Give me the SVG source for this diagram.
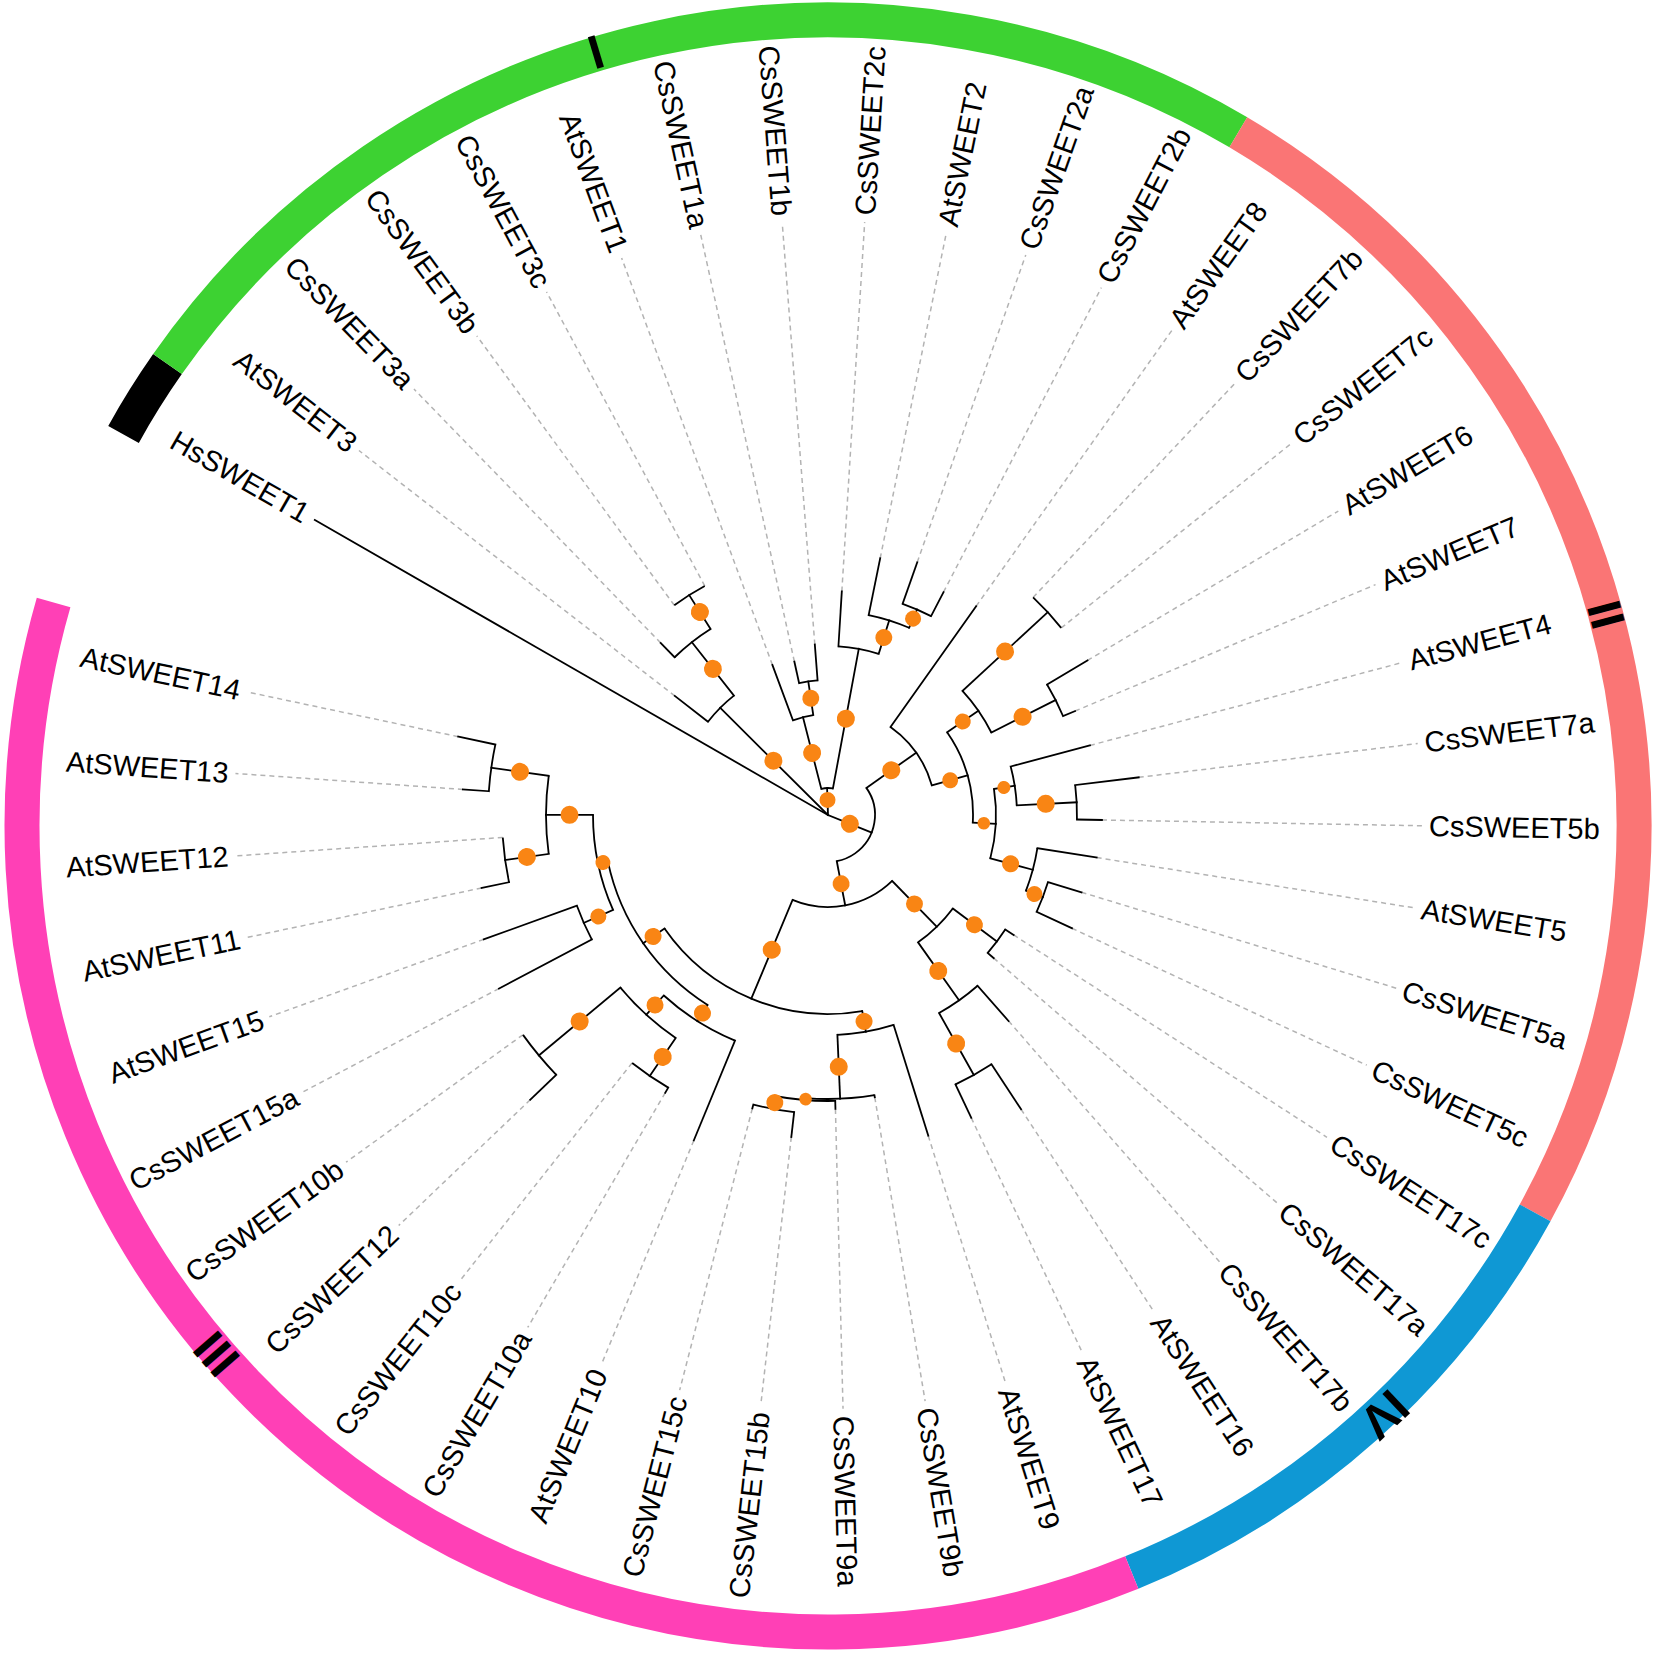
<svg xmlns="http://www.w3.org/2000/svg" width="1655" height="1653" viewBox="0 0 1655 1653">
<style>
.b line{stroke:#000;stroke-width:1.8;stroke-linecap:square}
.b circle{fill:none;stroke:#000;stroke-width:1.8}
.d line{stroke:#b3b3b3;stroke-width:1.5;stroke-dasharray:5 4}
.o circle{fill:#f98514}
text.t{font-family:"Liberation Sans",Arial,sans-serif;font-size:29px;fill:#000;dominant-baseline:central}
text.e{text-anchor:end}
.ring circle{fill:none;stroke-width:35}
text.num{font-family:"Liberation Sans",Arial,sans-serif;font-weight:bold;font-size:48px;text-anchor:middle;dominant-baseline:central;fill:#000}
</style>
<rect width="1655" height="1653" fill="#fff"/>
<g id="ring" class="ring" transform="translate(828,826)">
<circle id="seg-Hs" r="806" pathLength="360" stroke="#000" stroke-dasharray="5.9 400" transform="rotate(209.07)"/>
<circle id="seg-I" r="806" pathLength="360" stroke="#3dd232" stroke-dasharray="85.63 400" transform="rotate(214.97)"/>
<circle id="seg-II" r="806" pathLength="360" stroke="#fa7575" stroke-dasharray="88.08 400" transform="rotate(300.6)"/>
<circle id="seg-IV" r="806" pathLength="360" stroke="#0f98d4" stroke-dasharray="39.18 400" transform="rotate(28.68)"/>
<circle id="seg-III" r="806" pathLength="360" stroke="#ff40b6" stroke-dasharray="128.24 400" transform="rotate(67.86)"/>
<text class="num" transform="rotate(253.3) translate(808,0) rotate(90)">I</text>
<text class="num" transform="rotate(-15.2) translate(806,0) rotate(90)">II</text>
<text class="num" transform="rotate(139.2) translate(808,0) rotate(90)">III</text>
<text class="num" transform="rotate(46.6) translate(810,0) rotate(90)">IV</text>
</g>
<g transform="translate(828,815)">
<g id="connectors">
<g class="d">
<line x1="194" x2="594" transform="rotate(217.85)"/>
<line x1="240" x2="594" transform="rotate(225.81)"/>
<line x1="260" x2="594" transform="rotate(233.76)"/>
<line x1="260" x2="594" transform="rotate(241.72)"/>
<line x1="160" x2="594" transform="rotate(249.67)"/>
<line x1="157" x2="594" transform="rotate(257.63)"/>
<line x1="171" x2="594" transform="rotate(265.58)"/>
<line x1="224" x2="594" transform="rotate(273.54)"/>
<line x1="262" x2="594" transform="rotate(281.49)"/>
<line x1="268" x2="594" transform="rotate(289.45)"/>
<line x1="251" x2="594" transform="rotate(297.4)"/>
<line x1="256" x2="594" transform="rotate(305.36)"/>
<line x1="299" x2="594" transform="rotate(313.31)"/>
<line x1="299" x2="594" transform="rotate(321.27)"/>
<line x1="302" x2="594" transform="rotate(329.22)"/>
<line x1="268" x2="594" transform="rotate(337.18)"/>
<line x1="271" x2="594" transform="rotate(345.13)"/>
<line x1="313" x2="594" transform="rotate(353.09)"/>
<line x1="274" x2="594" transform="rotate(1.04)"/>
<line x1="272" x2="594" transform="rotate(9)"/>
<line x1="265" x2="594" transform="rotate(16.95)"/>
<line x1="269" x2="594" transform="rotate(24.91)"/>
<line x1="221" x2="594" transform="rotate(32.86)"/>
<line x1="219" x2="594" transform="rotate(40.82)"/>
<line x1="274" x2="594" transform="rotate(48.77)"/>
<line x1="352" x2="594" transform="rotate(56.73)"/>
<line x1="335" x2="594" transform="rotate(64.68)"/>
<line x1="336" x2="594" transform="rotate(72.64)"/>
<line x1="286" x2="594" transform="rotate(80.59)"/>
<line x1="294" x2="594" transform="rotate(88.55)"/>
<line x1="324" x2="594" transform="rotate(96.5)"/>
<line x1="303" x2="594" transform="rotate(104.46)"/>
<line x1="352" x2="594" transform="rotate(112.41)"/>
<line x1="322" x2="594" transform="rotate(120.37)"/>
<line x1="316" x2="594" transform="rotate(128.32)"/>
<line x1="412" x2="594" transform="rotate(136.28)"/>
<line x1="376" x2="594" transform="rotate(144.23)"/>
<line x1="372" x2="594" transform="rotate(152.19)"/>
<line x1="366" x2="594" transform="rotate(160.14)"/>
<line x1="354" x2="594" transform="rotate(168.1)"/>
<line x1="326" x2="594" transform="rotate(176.05)"/>
<line x1="366" x2="594" transform="rotate(184.01)"/>
<line x1="378" x2="594" transform="rotate(191.96)"/>
</g>
<g class="b">
<line x1="0" x2="592" transform="rotate(209.9)"/>
<line x1="0" x2="152" transform="rotate(224.82)"/>
<line x1="152" x2="194" transform="rotate(217.85)"/>
<line x1="152" x2="220" transform="rotate(231.78)"/>
<line x1="220" x2="240" transform="rotate(225.81)"/>
<line x1="220" x2="260" transform="rotate(237.74)"/>
<line x1="0" x2="27" transform="rotate(268.07)"/>
<line x1="27" x2="101" transform="rotate(255.64)"/>
<line x1="101" x2="160" transform="rotate(249.67)"/>
<line x1="101" x2="135" transform="rotate(261.61)"/>
<line x1="135" x2="157" transform="rotate(257.63)"/>
<line x1="135" x2="171" transform="rotate(265.58)"/>
<line x1="27" x2="169" transform="rotate(280.5)"/>
<line x1="169" x2="224" transform="rotate(273.54)"/>
<line x1="169" x2="204" transform="rotate(287.46)"/>
<line x1="204" x2="262" transform="rotate(281.49)"/>
<line x1="204" x2="224" transform="rotate(293.43)"/>
<line x1="224" x2="268" transform="rotate(289.45)"/>
<line x1="224" x2="251" transform="rotate(297.4)"/>
<line x1="0" x2="47" transform="rotate(21.99)"/>
<line x1="47" x2="108" transform="rotate(324.75)"/>
<line x1="108" x2="256" transform="rotate(305.36)"/>
<line x1="108" x2="145" transform="rotate(344.14)"/>
<line x1="145" x2="183" transform="rotate(325.25)"/>
<line x1="183" x2="299" transform="rotate(317.29)"/>
<line x1="183" x2="255" transform="rotate(333.2)"/>
<line x1="255" x2="302" transform="rotate(329.22)"/>
<line x1="255" x2="268" transform="rotate(337.18)"/>
<line x1="145" x2="168" transform="rotate(3.04)"/>
<line x1="168" x2="189" transform="rotate(351.1)"/>
<line x1="189" x2="271" transform="rotate(345.13)"/>
<line x1="189" x2="249" transform="rotate(357.07)"/>
<line x1="249" x2="313" transform="rotate(353.09)"/>
<line x1="249" x2="274" transform="rotate(1.04)"/>
<line x1="168" x2="212" transform="rotate(14.97)"/>
<line x1="212" x2="272" transform="rotate(9)"/>
<line x1="212" x2="230" transform="rotate(20.93)"/>
<line x1="230" x2="265" transform="rotate(16.95)"/>
<line x1="230" x2="269" transform="rotate(24.91)"/>
<line x1="47" x2="92" transform="rotate(79.23)"/>
<line x1="92" x2="156" transform="rotate(45.79)"/>
<line x1="156" x2="211" transform="rotate(36.84)"/>
<line x1="211" x2="221" transform="rotate(32.86)"/>
<line x1="211" x2="219" transform="rotate(40.82)"/>
<line x1="156" x2="227" transform="rotate(54.74)"/>
<line x1="227" x2="274" transform="rotate(48.77)"/>
<line x1="227" x2="298" transform="rotate(60.71)"/>
<line x1="298" x2="352" transform="rotate(56.73)"/>
<line x1="298" x2="335" transform="rotate(64.68)"/>
<line x1="92" x2="199" transform="rotate(112.66)"/>
<line x1="199" x2="220" transform="rotate(80.09)"/>
<line x1="220" x2="336" transform="rotate(72.64)"/>
<line x1="220" x2="284" transform="rotate(87.55)"/>
<line x1="284" x2="286" transform="rotate(80.59)"/>
<line x1="284" x2="286" transform="rotate(94.51)"/>
<line x1="286" x2="294" transform="rotate(88.55)"/>
<line x1="286" x2="299" transform="rotate(100.48)"/>
<line x1="299" x2="324" transform="rotate(96.5)"/>
<line x1="299" x2="303" transform="rotate(104.46)"/>
<line x1="199" x2="225" transform="rotate(145.23)"/>
<line x1="225" x2="244" transform="rotate(122.36)"/>
<line x1="244" x2="352" transform="rotate(112.41)"/>
<line x1="244" x2="270" transform="rotate(132.3)"/>
<line x1="270" x2="316" transform="rotate(124.34)"/>
<line x1="316" x2="322" transform="rotate(120.37)"/>
<line x1="270" x2="376" transform="rotate(140.26)"/>
<line x1="376" x2="412" transform="rotate(136.28)"/>
<line x1="225" x2="235" transform="rotate(168.09)"/>
<line x1="235" x2="267" transform="rotate(156.16)"/>
<line x1="267" x2="372" transform="rotate(152.19)"/>
<line x1="267" x2="366" transform="rotate(160.14)"/>
<line x1="235" x2="282" transform="rotate(180.03)"/>
<line x1="282" x2="326" transform="rotate(172.07)"/>
<line x1="326" x2="354" transform="rotate(168.1)"/>
<line x1="282" x2="340" transform="rotate(187.98)"/>
<line x1="340" x2="366" transform="rotate(184.01)"/>
<line x1="340" x2="378" transform="rotate(191.96)"/>
<circle r="260" pathLength="360" stroke-dasharray="7.96 400" transform="rotate(233.76)"/>
<circle r="220" pathLength="360" stroke-dasharray="11.93 400" transform="rotate(225.81)"/>
<circle r="152" pathLength="360" stroke-dasharray="13.93 400" transform="rotate(217.85)"/>
<circle r="135" pathLength="360" stroke-dasharray="7.95 400" transform="rotate(257.63)"/>
<circle r="101" pathLength="360" stroke-dasharray="11.94 400" transform="rotate(249.67)"/>
<circle r="224" pathLength="360" stroke-dasharray="7.95 400" transform="rotate(289.45)"/>
<circle r="204" pathLength="360" stroke-dasharray="11.94 400" transform="rotate(281.49)"/>
<circle r="169" pathLength="360" stroke-dasharray="13.92 400" transform="rotate(273.54)"/>
<circle r="27" pathLength="360" stroke-dasharray="24.86 400" transform="rotate(255.64)"/>
<circle r="299" pathLength="360" stroke-dasharray="7.96 400" transform="rotate(313.31)"/>
<circle r="255" pathLength="360" stroke-dasharray="7.96 400" transform="rotate(329.22)"/>
<circle r="183" pathLength="360" stroke-dasharray="15.91 400" transform="rotate(317.29)"/>
<circle r="249" pathLength="360" stroke-dasharray="7.95 400" transform="rotate(353.09)"/>
<circle r="189" pathLength="360" stroke-dasharray="11.94 400" transform="rotate(345.13)"/>
<circle r="230" pathLength="360" stroke-dasharray="7.96 400" transform="rotate(16.95)"/>
<circle r="212" pathLength="360" stroke-dasharray="11.93 400" transform="rotate(9)"/>
<circle r="168" pathLength="360" stroke-dasharray="23.87 400" transform="rotate(351.1)"/>
<circle r="145" pathLength="360" stroke-dasharray="37.79 400" transform="rotate(325.25)"/>
<circle r="108" pathLength="360" stroke-dasharray="38.78 400" transform="rotate(305.36)"/>
<circle r="211" pathLength="360" stroke-dasharray="7.96 400" transform="rotate(32.86)"/>
<circle r="298" pathLength="360" stroke-dasharray="7.95 400" transform="rotate(56.73)"/>
<circle r="227" pathLength="360" stroke-dasharray="11.94 400" transform="rotate(48.77)"/>
<circle r="156" pathLength="360" stroke-dasharray="17.9 400" transform="rotate(36.84)"/>
<circle r="299" pathLength="360" stroke-dasharray="7.96 400" transform="rotate(96.5)"/>
<circle r="286" pathLength="360" stroke-dasharray="11.93 400" transform="rotate(88.55)"/>
<circle r="284" pathLength="360" stroke-dasharray="13.92 400" transform="rotate(80.59)"/>
<circle r="220" pathLength="360" stroke-dasharray="14.91 400" transform="rotate(72.64)"/>
<circle r="316" pathLength="360" stroke-dasharray="7.95 400" transform="rotate(120.37)"/>
<circle r="376" pathLength="360" stroke-dasharray="7.95 400" transform="rotate(136.28)"/>
<circle r="270" pathLength="360" stroke-dasharray="15.92 400" transform="rotate(124.34)"/>
<circle r="244" pathLength="360" stroke-dasharray="19.89 400" transform="rotate(112.41)"/>
<circle r="267" pathLength="360" stroke-dasharray="7.95 400" transform="rotate(152.19)"/>
<circle r="326" pathLength="360" stroke-dasharray="7.95 400" transform="rotate(168.1)"/>
<circle r="340" pathLength="360" stroke-dasharray="7.95 400" transform="rotate(184.01)"/>
<circle r="282" pathLength="360" stroke-dasharray="15.91 400" transform="rotate(172.07)"/>
<circle r="235" pathLength="360" stroke-dasharray="23.87 400" transform="rotate(156.16)"/>
<circle r="225" pathLength="360" stroke-dasharray="45.73 400" transform="rotate(122.36)"/>
<circle r="199" pathLength="360" stroke-dasharray="65.14 400" transform="rotate(80.09)"/>
<circle r="92" pathLength="360" stroke-dasharray="66.87 400" transform="rotate(45.79)"/>
<circle r="47" pathLength="360" stroke-dasharray="114.48 400" transform="rotate(324.75)"/>
</g>
</g>
<g id="support" class="o">
<circle cx="77" r="9" transform="rotate(224.82)"/>
<circle cx="186" r="9" transform="rotate(231.78)"/>
<circle cx="240" r="9" transform="rotate(237.74)"/>
<circle cx="15" r="8" transform="rotate(268.07)"/>
<circle cx="64" r="9" transform="rotate(255.64)"/>
<circle cx="118" r="8.5" transform="rotate(261.61)"/>
<circle cx="98" r="9" transform="rotate(280.5)"/>
<circle cx="186" r="8.5" transform="rotate(287.46)"/>
<circle cx="214" r="8" transform="rotate(293.43)"/>
<circle cx="23.5" r="9" transform="rotate(21.99)"/>
<circle cx="77.5" r="9" transform="rotate(324.75)"/>
<circle cx="127" r="8" transform="rotate(344.14)"/>
<circle cx="164" r="8" transform="rotate(325.25)"/>
<circle cx="241" r="9" transform="rotate(317.29)"/>
<circle cx="218" r="9" transform="rotate(333.2)"/>
<circle cx="156" r="6.3" transform="rotate(3.04)"/>
<circle cx="178" r="6.5" transform="rotate(351.1)"/>
<circle cx="218" r="9" transform="rotate(357.07)"/>
<circle cx="189" r="8.5" transform="rotate(14.97)"/>
<circle cx="221" r="8" transform="rotate(20.93)"/>
<circle cx="70" r="8.5" transform="rotate(79.23)"/>
<circle cx="124" r="8.5" transform="rotate(45.79)"/>
<circle cx="183" r="8.5" transform="rotate(36.84)"/>
<circle cx="191" r="9" transform="rotate(54.74)"/>
<circle cx="262" r="9" transform="rotate(60.71)"/>
<circle cx="146" r="9" transform="rotate(112.66)"/>
<circle cx="209.5" r="8.5" transform="rotate(80.09)"/>
<circle cx="252" r="9" transform="rotate(87.55)"/>
<circle cx="285" r="6.3" transform="rotate(94.51)"/>
<circle cx="292.5" r="8.5" transform="rotate(100.48)"/>
<circle cx="213" r="8.5" transform="rotate(145.23)"/>
<circle cx="234.5" r="8.5" transform="rotate(122.36)"/>
<circle cx="257" r="8.5" transform="rotate(132.3)"/>
<circle cx="293" r="9" transform="rotate(124.34)"/>
<circle cx="323" r="9" transform="rotate(140.26)"/>
<circle cx="230" r="7.5" transform="rotate(168.09)"/>
<circle cx="251" r="8" transform="rotate(156.16)"/>
<circle cx="258.5" r="9" transform="rotate(180.03)"/>
<circle cx="311" r="9" transform="rotate(187.98)"/>
<circle cx="304" r="9" transform="rotate(172.07)"/>
</g>
<g id="leaves">
<g id="HsSWEET1"><text class="t e" x="-601" transform="rotate(29.9)">HsSWEET1</text></g>
<g id="AtSWEET3"><text class="t e" x="-601" transform="rotate(37.85)">AtSWEET3</text></g>
<g id="CsSWEET3a"><text class="t e" x="-601" transform="rotate(45.81)">CsSWEET3a</text></g>
<g id="CsSWEET3b"><text class="t e" x="-601" transform="rotate(53.76)">CsSWEET3b</text></g>
<g id="CsSWEET3c"><text class="t e" x="-601" transform="rotate(61.72)">CsSWEET3c</text></g>
<g id="AtSWEET1"><text class="t e" x="-601" transform="rotate(69.67)">AtSWEET1</text></g>
<g id="CsSWEET1a"><text class="t e" x="-601" transform="rotate(77.63)">CsSWEET1a</text></g>
<g id="CsSWEET1b"><text class="t e" x="-601" transform="rotate(85.58)">CsSWEET1b</text></g>
<g id="CsSWEET2c"><text class="t" x="601" transform="rotate(273.54)">CsSWEET2c</text></g>
<g id="AtSWEET2"><text class="t" x="601" transform="rotate(281.49)">AtSWEET2</text></g>
<g id="CsSWEET2a"><text class="t" x="601" transform="rotate(289.45)">CsSWEET2a</text></g>
<g id="CsSWEET2b"><text class="t" x="601" transform="rotate(297.4)">CsSWEET2b</text></g>
<g id="AtSWEET8"><text class="t" x="601" transform="rotate(305.36)">AtSWEET8</text></g>
<g id="CsSWEET7b"><text class="t" x="601" transform="rotate(313.31)">CsSWEET7b</text></g>
<g id="CsSWEET7c"><text class="t" x="601" transform="rotate(321.27)">CsSWEET7c</text></g>
<g id="AtSWEET6"><text class="t" x="601" transform="rotate(329.22)">AtSWEET6</text></g>
<g id="AtSWEET7"><text class="t" x="601" transform="rotate(337.18)">AtSWEET7</text></g>
<g id="AtSWEET4"><text class="t" x="601" transform="rotate(345.13)">AtSWEET4</text></g>
<g id="CsSWEET7a"><text class="t" x="601" transform="rotate(353.09)">CsSWEET7a</text></g>
<g id="CsSWEET5b"><text class="t" x="601" transform="rotate(1.04)">CsSWEET5b</text></g>
<g id="AtSWEET5"><text class="t" x="601" transform="rotate(9)">AtSWEET5</text></g>
<g id="CsSWEET5a"><text class="t" x="601" transform="rotate(16.95)">CsSWEET5a</text></g>
<g id="CsSWEET5c"><text class="t" x="601" transform="rotate(24.91)">CsSWEET5c</text></g>
<g id="CsSWEET17c"><text class="t" x="601" transform="rotate(32.86)">CsSWEET17c</text></g>
<g id="CsSWEET17a"><text class="t" x="601" transform="rotate(40.82)">CsSWEET17a</text></g>
<g id="CsSWEET17b"><text class="t" x="601" transform="rotate(48.77)">CsSWEET17b</text></g>
<g id="AtSWEET16"><text class="t" x="601" transform="rotate(56.73)">AtSWEET16</text></g>
<g id="AtSWEET17"><text class="t" x="601" transform="rotate(64.68)">AtSWEET17</text></g>
<g id="AtSWEET9"><text class="t" x="601" transform="rotate(72.64)">AtSWEET9</text></g>
<g id="CsSWEET9b"><text class="t" x="601" transform="rotate(80.59)">CsSWEET9b</text></g>
<g id="CsSWEET9a"><text class="t" x="601" transform="rotate(88.55)">CsSWEET9a</text></g>
<g id="CsSWEET15b"><text class="t e" x="-601" transform="rotate(276.5)">CsSWEET15b</text></g>
<g id="CsSWEET15c"><text class="t e" x="-601" transform="rotate(284.46)">CsSWEET15c</text></g>
<g id="AtSWEET10"><text class="t e" x="-601" transform="rotate(292.41)">AtSWEET10</text></g>
<g id="CsSWEET10a"><text class="t e" x="-601" transform="rotate(300.37)">CsSWEET10a</text></g>
<g id="CsSWEET10c"><text class="t e" x="-601" transform="rotate(308.32)">CsSWEET10c</text></g>
<g id="CsSWEET12"><text class="t e" x="-601" transform="rotate(316.28)">CsSWEET12</text></g>
<g id="CsSWEET10b"><text class="t e" x="-601" transform="rotate(324.23)">CsSWEET10b</text></g>
<g id="CsSWEET15a"><text class="t e" x="-601" transform="rotate(332.19)">CsSWEET15a</text></g>
<g id="AtSWEET15"><text class="t e" x="-601" transform="rotate(340.14)">AtSWEET15</text></g>
<g id="AtSWEET11"><text class="t e" x="-601" transform="rotate(348.1)">AtSWEET11</text></g>
<g id="AtSWEET12"><text class="t e" x="-601" transform="rotate(356.05)">AtSWEET12</text></g>
<g id="AtSWEET13"><text class="t e" x="-601" transform="rotate(364.01)">AtSWEET13</text></g>
<g id="AtSWEET14"><text class="t e" x="-601" transform="rotate(371.96)">AtSWEET14</text></g>
</g>
</g>
</svg>
